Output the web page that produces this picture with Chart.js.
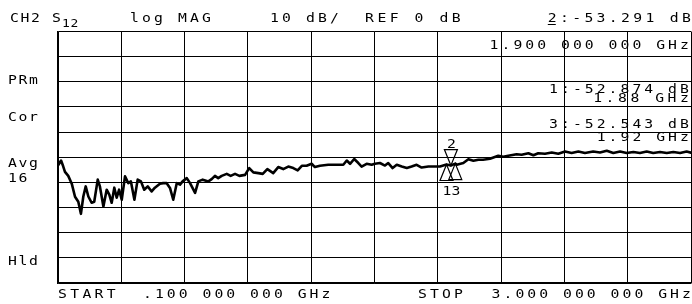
<!DOCTYPE html>
<html>
<head>
<meta charset="utf-8">
<script src="https://cdn.jsdelivr.net/npm/chart.js@4.4.1/dist/chart.umd.min.js"></script>
<style>
  html, body { margin: 0; padding: 0; background: #fff; }
  #wrap { width: 692px; height: 304px; position: relative; }
</style>
</head>
<body>
<div id="wrap"><canvas id="c" width="692" height="304"></canvas></div>
<script>
// ---------- DATA ----------
const startGHz = 0.1;
const stopGHz = 3.0;
const refDB = 0;
const dbPerDiv = 10;

const freqGHz = [
  0.102, 0.114, 0.123, 0.132, 0.147, 0.163, 0.178, 0.193, 0.205, 0.216,
  0.227, 0.239, 0.254, 0.266, 0.282, 0.292, 0.308, 0.323, 0.335, 0.346,
  0.358, 0.369, 0.380, 0.392, 0.407, 0.422, 0.434, 0.450, 0.465, 0.480,
  0.495, 0.511, 0.529, 0.544, 0.567, 0.582, 0.598, 0.613, 0.628, 0.644,
  0.659, 0.671, 0.690, 0.705, 0.728, 0.743, 0.763, 0.789, 0.804, 0.819,
  0.834, 0.850, 0.873, 0.891, 0.911, 0.931, 0.957, 0.976, 0.995, 1.018,
  1.038, 1.059, 1.071, 1.086, 1.109, 1.132, 1.155, 1.178, 1.198, 1.217,
  1.239, 1.262, 1.277, 1.300, 1.338, 1.384, 1.407, 1.423, 1.438, 1.457,
  1.476, 1.491, 1.514, 1.537, 1.552, 1.575, 1.598, 1.613, 1.633, 1.652,
  1.675, 1.698, 1.720, 1.743, 1.766, 1.797, 1.819, 1.850, 1.880, 1.900,
  1.920, 1.927, 1.957, 1.980, 2.003, 2.026, 2.047, 2.079, 2.117, 2.140,
  2.163, 2.201, 2.224, 2.255, 2.278, 2.300, 2.331, 2.362, 2.392, 2.423,
  2.453, 2.484, 2.514, 2.552, 2.583, 2.614, 2.644, 2.675, 2.705, 2.736,
  2.766, 2.797, 2.827, 2.858, 2.889, 2.919, 2.950, 2.980, 3.000
];
const magDB = [
  -53.0, -51.3, -53.4, -55.8, -57.4, -60.5, -65.7, -67.7, -72.5, -65.6,
  -61.6, -65.6, -68.1, -67.7, -58.9, -61.6, -69.6, -62.9, -64.9, -68.1,
  -62.1, -66.1, -62.9, -66.9, -57.6, -60.3, -59.6, -66.9, -58.9, -59.6,
  -62.9, -61.6, -63.6, -62.1, -60.5, -60.3, -60.3, -62.2, -66.9, -60.3,
  -60.9, -59.6, -58.3, -60.3, -64.2, -59.6, -58.9, -59.6, -58.7, -57.4,
  -58.3, -57.4, -56.6, -57.4, -56.6, -57.4, -57.0, -54.3, -56.0, -56.3,
  -56.6, -54.7, -55.4, -56.3, -53.9, -54.7, -53.7, -54.3, -55.2, -53.4,
  -53.4, -52.6, -53.9, -53.4, -53.0, -53.0, -53.0, -51.3, -52.6, -50.7,
  -52.3, -53.7, -52.6, -53.0, -52.6, -52.3, -53.3, -52.3, -54.3, -53.0,
  -53.7, -54.3, -53.7, -53.0, -54.1, -53.7, -53.7, -53.7, -52.874, -53.291,
  -52.543, -53.0, -52.3, -50.8, -51.4, -51.0, -51.0, -50.6, -49.4, -49.8,
  -49.4, -48.8, -49.0, -48.4, -49.2, -48.4, -48.6, -48.1, -48.6, -47.7,
  -48.3, -47.7, -48.3, -47.7, -48.1, -47.4, -48.3, -47.7, -48.3, -47.9,
  -48.3, -47.7, -48.3, -47.9, -48.3, -47.9, -48.3, -47.7, -48.2
];

// markers
const markerIds   = ['1', '2', '3'];
const markerFreqs = [1.88, 1.90, 1.92];
const markerVals  = [-52.874, -53.291, -52.543];
const activeMarker = '2';

// texts
const headerTexts = ['CH2', 'S', '12', 'log MAG', '10 dB/', 'REF 0 dB', '2:-53.291 dB'];
const markerTexts = ['1.900 000 000 GHz', '1:-52.874 dB', '1.88 GHz', '3:-52.543 dB', '1.92 GHz'];
const sideTexts   = ['PRm', 'Cor', 'Avg', '16', 'Hld'];
const footerTexts = ['START', '.100 000 000 GHz', 'STOP', '3.000 000 000 GHz'];

// ---------- LAYOUT (positions / styles) ----------
const FONT = '"DejaVu Sans Mono", monospace';
const P = 12; // char pitch
const GW = 8; // glyph width
const headerPos = [
  {x: 10, y: 22, p: 10.5}, {x: 52, y: 22, p: P}, {x: 62, y: 27, p: 8.5, size: 11},
  {x: 130, y: 22, p: P}, {x: 270, y: 22, p: P}, {x: 365, y: 22, p: 12.4},
  {r: 690, y: 22, p: 12.2, underlineFirst: true}
];
const markerPos = [
  {r: 688, y: 49, p: 11.9}, {r: 688, y: 93, p: 11.9}, {r: 688, y: 101.5, p: 12.4},
  {r: 688, y: 128, p: 11.9}, {r: 688, y: 141, p: 11.9}
];
const sidePos = [
  {x: 8, y: 84, p: 10.5}, {x: 8, y: 121, p: 10.5}, {x: 8, y: 167, p: 10.5},
  {x: 8, y: 182, p: 10.5}, {x: 8, y: 265, p: 10.5}
];
const footerPos = [
  {x: 58, y: 298, p: 12.2}, {x: 143, y: 298, p: 11.9}, {x: 418, y: 298, p: 12}, {r: 690, y: 298, p: 11.9}
];

function drawMono(ctx, str, pos) {
  const size = pos.size || 12.5;
  const p = pos.p || P;
  let x0 = pos.x;
  if (pos.r !== undefined) x0 = pos.r - ((str.length - 1) * p + GW);
  ctx.save();
  ctx.fillStyle = '#000';
  ctx.font = size + 'px ' + FONT;
  ctx.textBaseline = 'alphabetic';
  ctx.textAlign = 'left';
  for (let i = 0; i < str.length; i++) {
    const ch = str[i];
    if (ch === ' ') continue;
    ctx.save();
    ctx.translate(x0 + i * p, pos.y);
    ctx.scale(1.18, 1);
    ctx.fillText(ch, 0, 0);
    ctx.restore();
  }
  if (pos.underlineFirst) {
    ctx.strokeStyle = '#000';
    ctx.lineWidth = 1;
    ctx.beginPath();
    ctx.moveTo(x0, pos.y + 2.5);
    ctx.lineTo(x0 + GW, pos.y + 2.5);
    ctx.stroke();
  }
  ctx.restore();
}

const overlayPlugin = {
  id: 'overlay',
  afterDatasetsDraw(chart) {
    const ctx = chart.ctx;
    const xs = chart.scales.x, ys = chart.scales.y;
    // markers
    ctx.save();
    ctx.strokeStyle = '#000';
    ctx.lineWidth = 1.2;
    const H = 16, HW = 6.5;
    const below = [];
    for (let i = 0; i < markerIds.length; i++) {
      const px = xs.getPixelForValue(markerFreqs[i]);
      const py = ys.getPixelForValue(markerVals[i]);
      ctx.beginPath();
      if (markerIds[i] === activeMarker) {
        ctx.moveTo(px, py);
        ctx.lineTo(px - HW, py - H);
        ctx.lineTo(px + HW, py - H);
        ctx.closePath();
        ctx.stroke();
        drawMono(ctx, markerIds[i], {x: px - 4, y: py - 18, p: P});
      } else {
        ctx.moveTo(px, py);
        ctx.lineTo(px - HW, py + H);
        ctx.lineTo(px + HW, py + H);
        ctx.closePath();
        ctx.stroke();
        below.push({id: markerIds[i], px: px, py: py});
      }
    }
    if (below.length) {
      const s = below.map(b => b.id).join('');
      const cx = below.reduce((a, b) => a + b.px, 0) / below.length;
      const by = Math.max(...below.map(b => b.py)) + H + 15;
      drawMono(ctx, s, {x: cx - ((s.length - 1) * 9 + GW) / 2, y: by, p: 9});
    }
    ctx.restore();
    // texts
    headerTexts.forEach((t, i) => drawMono(ctx, t, headerPos[i]));
    markerTexts.forEach((t, i) => drawMono(ctx, t, markerPos[i]));
    sideTexts.forEach((t, i) => drawMono(ctx, t, sidePos[i]));
    footerTexts.forEach((t, i) => drawMono(ctx, t, footerPos[i]));
  }
};

const points = freqGHz.map((f, i) => ({x: f, y: magDB[i]}));

new Chart(document.getElementById('c'), {
  type: 'line',
  data: {
    datasets: [{
      data: points,
      borderColor: '#000',
      borderWidth: 2.6,
      pointRadius: 0,
      tension: 0,
      borderJoinStyle: 'round',
      borderCapStyle: 'round',
      fill: false
    }]
  },
  options: {
    responsive: false,
    animation: false,
    devicePixelRatio: 1,
    layout: { padding: { left: 58, right: 1, top: 31.5, bottom: 21 } },
    plugins: { legend: { display: false }, tooltip: { enabled: false } },
    scales: {
      x: {
        type: 'linear',
        min: startGHz,
        max: stopGHz,
        afterBuildTicks(scale) {
          const t = [];
          for (let k = 0; k <= 10; k++) t.push({ value: startGHz + k * (stopGHz - startGHz) / 10 });
          scale.ticks = t;
        },
        ticks: { display: false },
        grid: { color: '#000', lineWidth: 1, drawTicks: false },
        border: { display: true, color: '#000', width: 1.5 }
      },
      y: {
        type: 'linear',
        min: refDB - 10 * dbPerDiv,
        max: refDB,
        ticks: { display: false, stepSize: dbPerDiv },
        grid: { color: '#000', lineWidth: 1, drawTicks: false },
        border: { display: true, color: '#000', width: 1.5 }
      }
    }
  },
  plugins: [overlayPlugin]
});
</script>
</body>
</html>
